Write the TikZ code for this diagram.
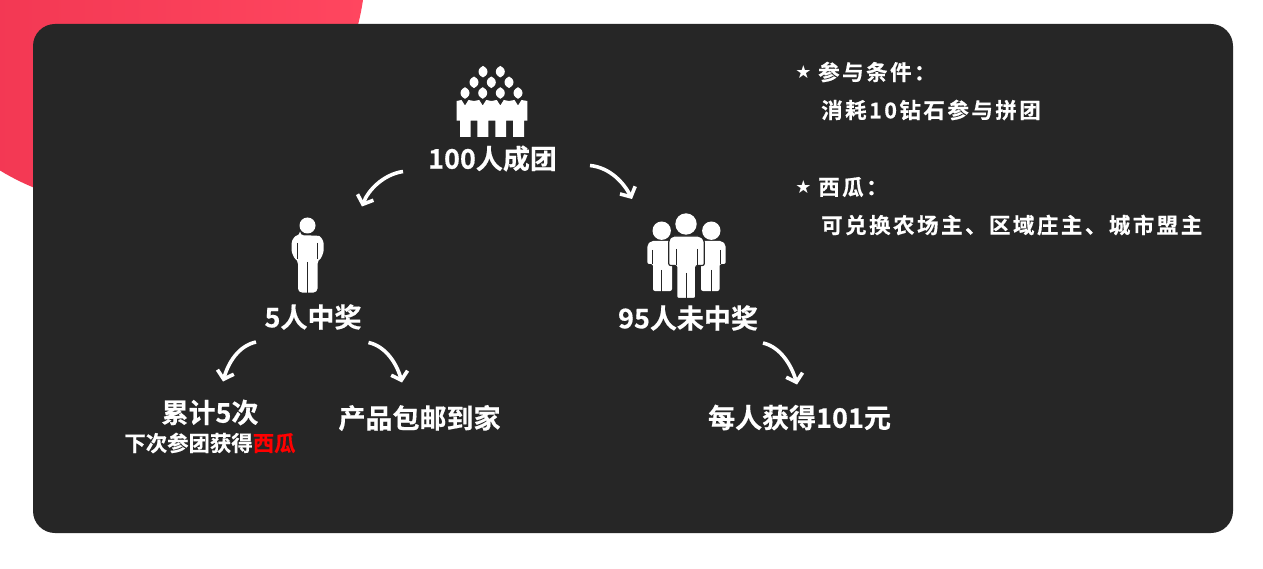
\documentclass[tikz,border=0pt]{standalone}
\usepackage{fontspec}
\usetikzlibrary{arrows.meta}
\setmainfont{Noto Sans CJK SC Bold}[BoldFont=*,FakeBold=0.5]
\newfontfamily\cjkspaced{Noto Sans CJK SC Bold}[BoldFont=*,LetterSpace=11.5,FakeBold=0.5]
\newfontfamily\starfont{DejaVu Sans}
\definecolor{panel}{HTML}{262626}
\definecolor{redL}{HTML}{EF3450}
\definecolor{redR}{HTML}{FF465F}
\tikzset{
  big/.style={text=white,inner sep=0pt,font=\bfseries\fontsize{27}{27}\selectfont},
  small/.style={text=white,inner sep=0pt,font=\bfseries\fontsize{21.4}{22}\selectfont},
  note/.style={text=white,inner sep=0pt,anchor=west,font=\cjkspaced\bfseries\fontsize{21.5}{21.5}\selectfont},
  starmark/.style={text=white,inner sep=0pt,font=\starfont\fontsize{18}{18}\selectfont},
  curvearrow/.style={draw=white,line width=3.6pt,-{Straight Barb[length=7.5pt,width=17pt,line width=3.6pt]}},
  icon/.style={fill=white,draw=none},
  gapline/.style={draw=panel,line width=0.8pt}
}
\newcommand{\crowdhead}[2]{\fill[white] (#1,#2-5.8) .. controls (#1+1.2,#2-5) and (#1+4.5,#2-3.6) .. (#1+4.5,#2) .. controls (#1+4.5,#2+3.6) and (#1+1.2,#2+5) .. (#1,#2+5.8) .. controls (#1-1.2,#2+5) and (#1-4.5,#2+3.6) .. (#1-4.5,#2) .. controls (#1-4.5,#2-3.6) and (#1-1.2,#2-5) .. (#1,#2-5.8) -- cycle;}
\begin{document}
\begin{tikzpicture}[x=1pt,y=-1pt]
\useasboundingbox (0,0) rectangle (1263,569);
\fill[white] (0,0) rectangle (1263,569);
% red disc
\begin{scope}
\clip (0,0) rectangle (1263,569);
\shade[left color=redL,right color=redR] (125,-35) circle[radius=240.5];
\end{scope}
\fill[panel,rounded corners=22pt] (33,24) rectangle (1233,533);
% crowd icon
\crowdhead{483}{71.7}\crowdhead{500.3}{71.7}
\crowdhead{474}{82.3}\crowdhead{491.3}{82.3}\crowdhead{509}{82.3}
\crowdhead{465}{93}\crowdhead{482.7}{93}\crowdhead{500.3}{93}\crowdhead{518}{93}
\fill[icon] (456.7,101) -- (461.5,100) -- (465,105.5) -- (468.5,100) -- (474,101) -- (479.2,100) -- (482.7,105.5) -- (486.2,100) -- (491.5,101) -- (496.8,100) -- (500.3,105.5) -- (503.8,100) -- (509,101) -- (514.5,100) -- (518,105.5) -- (521.5,100) -- (527.3,101)
 -- (527.3,120.7) -- (524,120.7) -- (524,137) -- (513,137) -- (513,120.7) -- (506,120.7) -- (506,137) -- (495.3,137) -- (495.3,120.7) -- (488.3,120.7) -- (488.3,137) -- (477.3,137) -- (477.3,120.7) -- (470.7,120.7) -- (470.7,137) -- (460,137) -- (460,120.7) -- (456.7,120.7) -- cycle;
% single person
\fill[icon] (307.5,225.5) circle[radius=8];
\fill[icon,rounded corners=4pt] (300,235.5) -- (315,235.5) .. controls (320,236) and (323.5,240) .. (323.5,247) .. controls (323.5,253) and (321,258) .. (317.5,260) -- (317.5,292.5) -- (298,292.5) -- (298,260) .. controls (294.5,258) and (291.7,253) .. (291.7,247) .. controls (291.7,240) and (295,236) .. (300,235.5) -- cycle;
\draw[gapline] (307.5,262) -- (307.5,293);
\draw[gapline] (297.7,243) -- (297.7,259);
\draw[gapline] (317.3,243) -- (317.3,259);
% three people
\fill[icon] (661.7,230.7) circle[radius=9.2];
\fill[icon] (711.3,230.7) circle[radius=9.2];
\fill[icon,rounded corners=2pt] (651,241) -- (672,241) -- (672,291) -- (653,291) -- (653,264) -- (647.3,264) -- (647.3,245) -- cycle;
\fill[icon,rounded corners=2pt] (722,241) -- (701,241) -- (701,291) -- (719.5,291) -- (719.5,264) -- (725.7,264) -- (725.7,245) -- cycle;
\draw[gapline] (652.8,250) -- (652.8,264);
\draw[gapline] (720,250) -- (720,264);
\draw[gapline] (661.7,270) -- (661.7,291.5);
\draw[gapline] (711.3,270) -- (711.3,291.5);
\fill[icon] (686,224) circle[radius=10.7];
\filldraw[fill=white,draw=panel,line width=1.2pt,rounded corners=2pt] (672,236) -- (700,236) -- (704.3,240) -- (704.3,265.5) -- (695.7,265.5) -- (695.7,298.5) -- (676.7,298.5) -- (676.7,265.5) -- (668.7,265.5) -- (668.7,240) -- cycle;
\draw[gapline] (676,249) -- (676,265);
\draw[gapline] (697,249) -- (697,265);
\draw[gapline] (686,273) -- (686,298);
% labels
\node[big] (team) at (492.5,158.5) {100人成团};
\node[big] (win) at (313,317) {5人中奖};
\node[big] (lose) at (688,318) {95人未中奖};
\node[big] (count) at (210,412.5) {累计5次};
\node[small] (next) at (210,443) {下次参团获得\textcolor{red}{西瓜}};
\node[big] (ship) at (419.5,418) {产品包邮到家};
\node[big] (each) at (799.5,417.5) {每人获得101元};
% notes
\node[starmark] (s1) at (803.5,72) {★};
\node[note] (n1) at (818,72) {参与条件：};
\node[note] (n2) at (821,110) {消耗10钻石参与拼团};
\node[starmark] (s2) at (803.5,187) {★};
\node[note] (n3) at (818,187) {西瓜：};
\node[note] (n4) at (821,225) {可兑换农场主、区域庄主、城市盟主};
% arrows
\coordinate (a1s) at (403,171.5); \coordinate (a1e) at (362,206.5);
\coordinate (a2s) at (590,165.5); \coordinate (a2e) at (632,199);
\coordinate (a3s) at (256,342); \coordinate (a3e) at (223,381.5);
\coordinate (a4s) at (368.5,342.5); \coordinate (a4e) at (402,382.5);
\coordinate (a5s) at (763,343); \coordinate (a5e) at (797,384.5);
\draw[curvearrow] (a1s) .. controls +(-20,3) and +(6,-16) .. (a1e);
\draw[curvearrow] (a2s) .. controls +(20,2) and +(-8,-16) .. (a2e);
\draw[curvearrow] (a3s) .. controls +(-18,4) and +(5,-18) .. (a3e);
\draw[curvearrow] (a4s) .. controls +(18,4) and +(-5,-18) .. (a4e);
\draw[curvearrow] (a5s) .. controls +(18,4) and +(-5,-18) .. (a5e);
\end{tikzpicture}
\end{document}
